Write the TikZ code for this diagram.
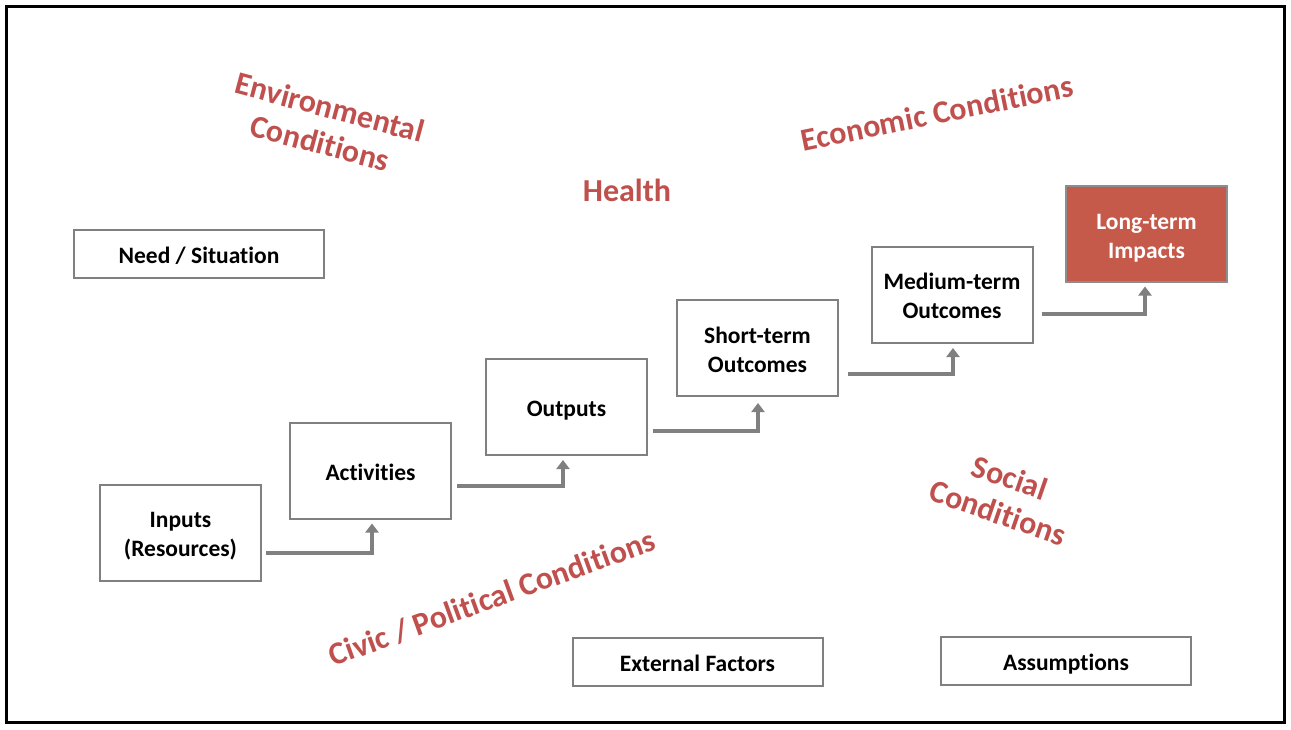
\documentclass[tikz,border=0pt]{standalone}
\usepackage{fontspec}
\setmainfont[Ligatures=NoCommon]{Carlito}
\usetikzlibrary{arrows.meta}
\definecolor{boxgray}{RGB}{128,128,128}
\definecolor{redtxt}{RGB}{192,80,77}
\definecolor{redfill}{RGB}{197,90,75}
\definecolor{arrgray}{RGB}{128,128,128}
\newcommand\bxh{\rule{0pt}{24.5pt}}
\newcommand\bxd{\rule[-5.5pt]{0pt}{5.5pt}}
\begin{document}
\begin{tikzpicture}[x=1pt,y=-1pt,
 box/.style={draw=boxgray,line width=2pt,fill=white,inner sep=0pt,align=center,
   font=\bfseries\fontsize{23.5}{29}\selectfont,text=black},
 bigbox/.style={box,minimum width=161pt,minimum height=96pt},
 widebox/.style={box,minimum width=250pt,minimum height=48pt},
 cond/.style={text=redtxt,font=\bfseries\fontsize{32}{37}\selectfont,align=center,inner sep=0pt},
 arr/.style={draw=arrgray,line width=4pt,-{Triangle[width=13pt,length=9pt]}}]
\useasboundingbox (0,0) rectangle (1291,730);
\draw[line width=2.5pt] (6.5,6.5) rectangle (1284.5,722.5);

\node[widebox] (need) at (199,254) {\bxh Need / Situation\bxd};
\node[bigbox] (inp) at (180.5,532.5) {\bxh Inputs\\(Resources)\bxd};
\node[bigbox] (act) at (370.5,470.5) {\bxh Activities\bxd};
\node[bigbox] (out) at (566.5,407) {\bxh Outputs\bxd};
\node[bigbox] (sht) at (757.5,348) {\bxh Short-term\\Outcomes\bxd};
\node[bigbox] (med) at (952,295) {\bxh Medium-term\\Outcomes\bxd};
\node[bigbox,fill=redfill,draw=boxgray!90,text=white] (lng) at (1146.5,234.5) {\bxh Long-term\\Impacts\bxd};
\node[widebox] (ext) at (697.5,662) {\bxh External Factors\bxd};
\node[widebox] (asm) at (1066,661) {\bxh Assumptions\bxd};

\draw[arr] ([xshift=4pt,yshift=-20.5pt]inp.east) -| ([xshift=1.5pt,yshift=-4pt]act.south);
\draw[arr] ([xshift=5pt,yshift=-15.5pt]act.east) -| ([xshift=-3.5pt,yshift=-4pt]out.south);
\draw[arr] ([xshift=5pt,yshift=-24pt]out.east) -| ([xshift=0.5pt,yshift=-6pt]sht.south);
\draw[arr] ([xshift=9pt,yshift=-26pt]sht.east) -| ([xshift=1pt,yshift=-4pt]med.south);
\draw[arr] ([xshift=8pt,yshift=-19pt]med.east) -| ([xshift=-1.5pt,yshift=-3pt]lng.south);

\node[cond,rotate=-15] (env) at (325,125) {Environmental\\Conditions};
\node[cond] (hlt) at (627,190) {Health};
\node[cond,rotate=11.5] (eco) at (937,113) {Economic Conditions};
\node[cond,rotate=-19] (soc) at (1004,495) {Social\\Conditions};
\node[cond,rotate=20] (civ) at (492,598) {Civic / Political Conditions};
\end{tikzpicture}
\end{document}
